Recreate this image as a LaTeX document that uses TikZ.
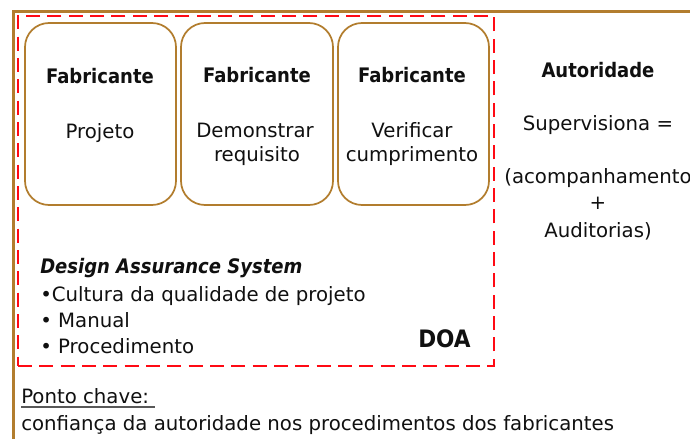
\documentclass[tikz,border=0pt]{standalone}
\usepackage{fontspec}
\setmainfont{DejaVu Sans}[BoldFont={DejaVu Sans Condensed Bold},BoldItalicFont={DejaVu Sans Condensed Bold Oblique}]
\definecolor{brownframe}{HTML}{B27D2E}
\definecolor{reddash}{HTML}{FF0A14}
\definecolor{txt}{HTML}{101010}
\begin{document}
\begin{tikzpicture}[x=0.75pt,y=-0.75pt,
  txtstyle/.style={inner sep=0pt,font=\fontsize{14.8}{18}\selectfont,text=txt},
  boldtxt/.style={txtstyle,font=\fontsize{15}{18}\selectfont\bfseries},
  fabbox/.style={draw=brownframe,line width=1.3pt,rounded corners=18pt,inner sep=0pt},
  doaframe/.style={draw=reddash,line width=1.6pt,dash pattern=on 10.5pt off 5.5pt},
  outerframe/.style={draw=brownframe,line width=2.4pt}]
\useasboundingbox (0,0) rectangle (690,439);
\fill[white] (0,0) rectangle (690,439);
% outer frame
\coordinate (fbl) at (13.5,445);
\coordinate (ftl) at (13.5,11.5);
\coordinate (ftr) at (695,11.5);
\draw[outerframe] (fbl) -- (ftl) -- (ftr);
% DOA dashed frame
\node[doaframe,minimum width=476*0.75pt,minimum height=350*0.75pt,inner sep=0pt] (doa) at (256,191) {};
% boxes
\node[fabbox,minimum width=151*0.75pt,minimum height=182*0.75pt] (b1) at (100.5,114) {};
\node[fabbox,minimum width=152*0.75pt,minimum height=182*0.75pt] (b2) at (257,114) {};
\node[fabbox,minimum width=151*0.75pt,minimum height=182*0.75pt] (b3) at (413.5,114) {};
% box texts
\node[boldtxt,anchor=base] (f1) at (100,83) {Fabricante};
\node[txtstyle,anchor=base] (p1) at (100,138) {Projeto};
\node[boldtxt,anchor=base] (f2) at (257,82) {Fabricante};
\node[txtstyle,anchor=base] (p2a) at (255,137) {Demonstrar};
\node[txtstyle,anchor=base] (p2b) at (257,161) {requisito};
\node[boldtxt,anchor=base] (f3) at (412,82) {Fabricante};
\node[txtstyle,anchor=base] (p3a) at (412,137) {Verificar};
\node[txtstyle,anchor=base] (p3b) at (412,161) {cumprimento};
% authority
\node[boldtxt,anchor=base] (aut) at (598,77) {Autoridade};
\node[txtstyle,anchor=base] (sup) at (598,130) {Supervisiona =};
\node[txtstyle,anchor=base] (acomp) at (598,183) {(acompanhamento};
\node[txtstyle,anchor=base] (plus) at (598,209) {+};
\node[txtstyle,anchor=base] (audit) at (598,237) {Auditorias)};
% design assurance
\node[txtstyle,font=\fontsize{15}{18}\selectfont\bfseries\itshape,anchor=base west] (das) at (40,273) {Design Assurance System};
\node[txtstyle,anchor=base west] (l1) at (40,301) {•Cultura da qualidade de projeto};
\node[txtstyle,anchor=base west] (l2) at (40,327) {• Manual};
\node[txtstyle,anchor=base west] (l3) at (40,353) {• Procedimento};
\node[boldtxt,font=\fontsize{18}{20}\selectfont\bfseries,anchor=base west] (doalabel) at (418,347) {DOA};
% key point
\node[txtstyle,anchor=base west] (pc) at (21,403) {Ponto chave: };
\draw[txt!70,line width=0.8pt] ([yshift=-3pt]pc.base west) -- ([yshift=-3pt,xshift=4pt]pc.base east);
\node[txtstyle,anchor=base west] (conf) at (21,430) {confiança da autoridade nos procedimentos dos fabricantes};
\end{tikzpicture}
\end{document}
